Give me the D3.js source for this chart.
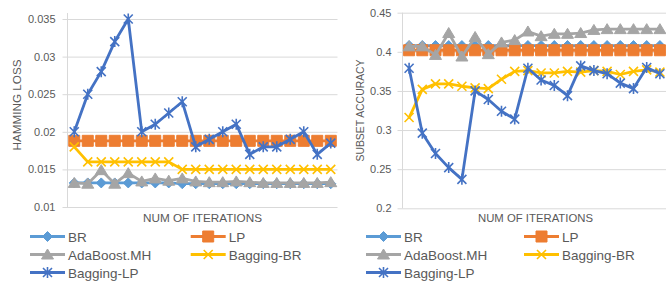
<!DOCTYPE html>
<html lang="en">
<head>
<meta charset="UTF-8">
<script src="https://cdn.jsdelivr.net/npm/d3@7"></script>
<title>Hamming loss / subset accuracy</title>
<style>
  body { margin: 0; background: #fff; }
  svg { display: block; font-family: "Liberation Sans", Arial, sans-serif; }
  .grid line { stroke: #d9d9d9; stroke-width: 1; }
  .grid text { fill: #595959; font-size: 11px; }
  .title { fill: #595959; font-size: 11.5px; }
  .legend text { fill: #595959; font-size: 13.5px; }
</style>
</head>
<body>
<script>
  const iterations = [1, 2, 3, 4, 5, 6, 7, 8, 9, 10, 11, 12, 13, 14, 15, 16, 17, 18, 19, 20];
  const seriesNames = ["BR", "LP", "AdaBoost.MH", "Bagging-BR", "Bagging-LP"];
  const seriesColors = ["#5b9bd5", "#ed7d31", "#a5a5a5", "#ffc000", "#4472c4"];
  const seriesMarkers = ["diamond", "square", "triangle", "x", "star"];

  // hamming loss (left chart)
  const hlBR = [0.0132, 0.0132, 0.0132, 0.0132, 0.0132, 0.0132, 0.0132, 0.0132, 0.0131, 0.0131,
                0.0131, 0.0131, 0.0131, 0.0131, 0.0131, 0.0131, 0.0131, 0.0131, 0.0131, 0.0131];
  const hlLP = [0.0188, 0.0188, 0.0188, 0.0188, 0.0188, 0.0188, 0.0188, 0.0188, 0.0188, 0.0188,
                0.0188, 0.0188, 0.0188, 0.0188, 0.0188, 0.0188, 0.0188, 0.0188, 0.0188, 0.0188];
  const hlAda = [0.0132, 0.0131, 0.0149, 0.0131, 0.0145, 0.0134, 0.0138, 0.0135, 0.0138, 0.0134,
                 0.0133, 0.0133, 0.0134, 0.0133, 0.0132, 0.0132, 0.0132, 0.0132, 0.0132, 0.0133];
  const hlBagBR = [0.018, 0.016, 0.016, 0.016, 0.016, 0.016, 0.016, 0.016, 0.015, 0.015,
                   0.015, 0.015, 0.015, 0.015, 0.015, 0.015, 0.015, 0.015, 0.015, 0.015];
  const hlBagLP = [0.02, 0.025, 0.028, 0.032, 0.035, 0.02, 0.021, 0.0225, 0.024, 0.018,
                   0.019, 0.02, 0.021, 0.017, 0.018, 0.018, 0.019, 0.02, 0.017, 0.0185];
  const hlTicks = [0.01, 0.015, 0.02, 0.025, 0.03, 0.035];

  // subset accuracy (right chart)
  const saBR = [0.408, 0.408, 0.408, 0.408, 0.408, 0.408, 0.408, 0.408, 0.408, 0.408,
                0.408, 0.408, 0.408, 0.408, 0.408, 0.408, 0.408, 0.408, 0.408, 0.408];
  const saLP = [0.402, 0.402, 0.402, 0.402, 0.402, 0.402, 0.402, 0.402, 0.402, 0.402,
                0.402, 0.402, 0.402, 0.402, 0.402, 0.402, 0.402, 0.402, 0.402, 0.402];
  const saAda = [0.407, 0.407, 0.396, 0.424, 0.394, 0.419, 0.397, 0.412, 0.415, 0.426,
                 0.42, 0.423, 0.423, 0.424, 0.428, 0.429, 0.429, 0.429, 0.429, 0.429];
  const saBagBR = [0.316, 0.352, 0.359, 0.359, 0.356, 0.354, 0.353, 0.365, 0.375, 0.376,
                   0.373, 0.373, 0.375, 0.374, 0.376, 0.375, 0.371, 0.375, 0.377, 0.374];
  const saBagLP = [0.379, 0.296, 0.27, 0.252, 0.237, 0.35, 0.339, 0.324, 0.314, 0.379,
                   0.364, 0.357, 0.344, 0.382, 0.376, 0.372, 0.36, 0.353, 0.38, 0.372];
  const saTicks = [0.2, 0.25, 0.3, 0.35, 0.4, 0.45];

  const panels = [
    { series: [hlBR, hlLP, hlAda, hlBagBR, hlBagLP], ticks: hlTicks, yTitle: "HAMMING LOSS",
      left: 67.5, right: 337.5, top: 19, bottom: 207, axisTop: 13, labelGap: 12,
      titleX: 20.5, titleY: 105, titleLen: 91, xTitleX: 202.5, xTitleLen: 119, legX: [30, 190.7] },
    { series: [saBR, saLP, saAda, saBagBR, saBagLP], ticks: saTicks, yTitle: "SUBSET ACCURACY",
      left: 402.5, right: 666.5, top: 12.7, bottom: 208.3, axisTop: 12.7, labelGap: 11,
      titleX: 364, titleY: 110.5, titleLen: 102, xTitleX: 535.5, xTitleLen: 115, legX: [366, 524] }
  ];

  function markerPath(type) {
    switch (type) {
      case "diamond": return "M0,-5L5,0L0,5L-5,0Z";
      case "square": return "M-5.5,-5.5H5.5V5.5H-5.5Z";
      case "triangle": return "M0,-5.5L6,4.5L-6,4.5Z";
      case "x": return "M-4.5,-4.5L4.5,4.5M-4.5,4.5L4.5,-4.5";
      case "star": return "M-4.5,-4.5L4.5,4.5M-4.5,4.5L4.5,-4.5M0,-5.5V5.5";
    }
  }

  function drawMarker(sel, type, color) {
    const open = type === "x" || type === "star";
    sel.attr("d", markerPath(type))
      .attr("fill", open ? "none" : color)
      .attr("stroke", color)
      .attr("stroke-width", open ? 1.6 : 1);
  }

  const svg = d3.select("body").append("svg")
    .attr("width", 666)
    .attr("height", 282);

  panels.forEach(p => {
    const x = d3.scalePoint().domain(iterations).range([p.left, p.right]).padding(0.5);
    const y = d3.scaleLinear().domain([p.ticks[0], p.ticks[p.ticks.length - 1]]).range([p.bottom, p.top]);

    // gridlines + tick labels
    const ax = svg.append("g").attr("class", "grid")
      .attr("transform", `translate(${p.left},0)`)
      .call(d3.axisLeft(y).tickValues(p.ticks).tickFormat(d => String(d)).tickSizeOuter(0));
    ax.select(".domain").remove();
    ax.selectAll(".tick line").attr("x1", -5).attr("x2", p.right - p.left);
    ax.selectAll(".tick text").attr("x", -p.labelGap).attr("font-family", null).attr("font-size", null);
    ax.attr("font-family", null).attr("font-size", null);

    svg.append("line")
      .attr("x1", p.left).attr("x2", p.left)
      .attr("y1", p.axisTop).attr("y2", p.bottom)
      .attr("stroke", "#d9d9d9");

    // series
    const line = d3.line().x((d, i) => x(iterations[i])).y(d => y(d));
    p.series.forEach((vals, si) => {
      const g = svg.append("g");
      g.append("path")
        .attr("d", line(vals))
        .attr("fill", "none")
        .attr("stroke", seriesColors[si])
        .attr("stroke-width", 2.8)
        .attr("stroke-linejoin", "round")
        .attr("stroke-linecap", "round");
      g.selectAll("path.mk").data(vals).enter().append("path")
        .attr("class", "mk")
        .attr("transform", (d, i) => `translate(${x(iterations[i])},${y(d)})`)
        .call(drawMarker, seriesMarkers[si], seriesColors[si]);
    });

    // axis titles
    svg.append("text").attr("class", "title")
      .attr("transform", `translate(${p.titleX},${p.titleY}) rotate(-90)`)
      .attr("text-anchor", "middle")
      .attr("textLength", p.titleLen).attr("lengthAdjust", "spacingAndGlyphs")
      .text(p.yTitle);
    svg.append("text").attr("class", "title")
      .attr("x", p.xTitleX).attr("y", 221.5)
      .attr("text-anchor", "middle")
      .attr("textLength", p.xTitleLen).attr("lengthAdjust", "spacingAndGlyphs")
      .text("NUM OF ITERATIONS");

    // legend
    const leg = svg.append("g").attr("class", "legend");
    seriesNames.forEach((name, si) => {
      const lx = p.legX[si % 2];
      const cy = 236.5 + Math.floor(si / 2) * 18;
      leg.append("line")
        .attr("x1", lx).attr("x2", lx + 35).attr("y1", cy).attr("y2", cy)
        .attr("stroke", seriesColors[si]).attr("stroke-width", 2.8);
      leg.append("path")
        .attr("transform", `translate(${lx + 17.5},${cy})`)
        .call(drawMarker, seriesMarkers[si], seriesColors[si]);
      leg.append("text").attr("x", lx + 38).attr("y", cy + 5).text(name);
    });
  });
</script>
</body>
</html>
